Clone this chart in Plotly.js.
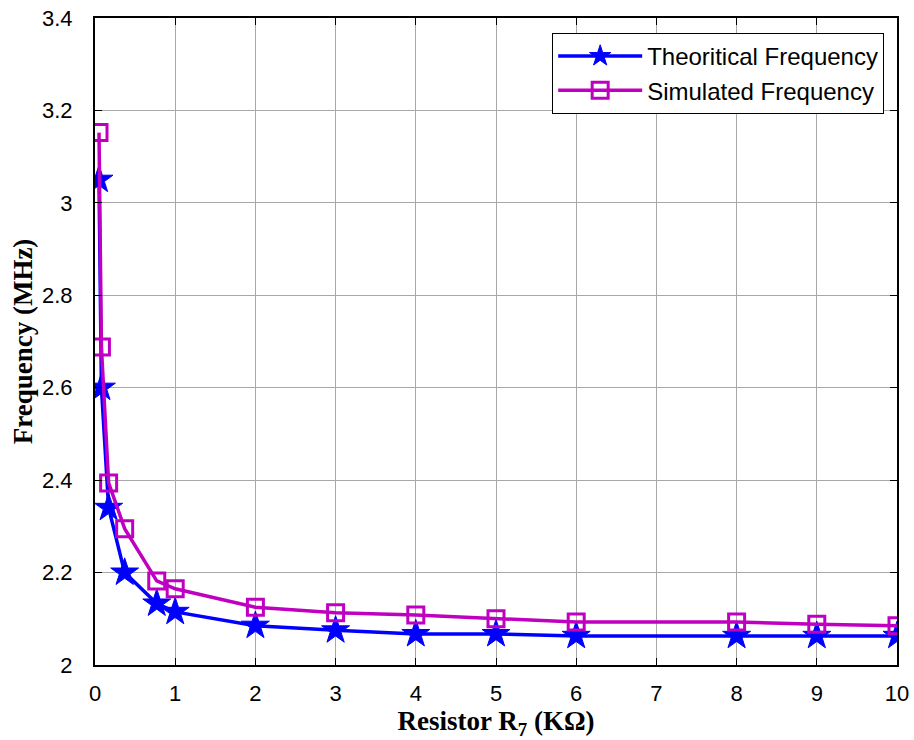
<!DOCTYPE html>
<html>
<head>
<meta charset="utf-8">
<script src="https://cdn.plot.ly/plotly-3.0.1.min.js"></script>
<style>html,body{margin:0;padding:0;background:#fff;}#chart{width:914px;height:740px;}</style>
</head>
<body>
<div id="chart"></div>
<script>
const resistance = [0.05, 0.08, 0.17, 0.37, 0.77, 1, 2, 3, 4, 5, 6, 8, 9, 10];
const theoretical = [3.05, 2.60, 2.34, 2.20, 2.133, 2.115, 2.085, 2.075, 2.067, 2.067, 2.063, 2.063, 2.063, 2.063];
const simulated = [3.152, 2.688, 2.394, 2.295, 2.182, 2.165, 2.125, 2.113, 2.108, 2.100, 2.093, 2.093, 2.088, 2.085];
const xTicks = [0,1,2,3,4,5,6,7,8,9,10];
const yTicks = [2, 2.2, 2.4, 2.6, 2.8, 3, 3.2, 3.4];

const traces = [
  {x: resistance, y: theoretical, name: 'Theoritical Frequency', mode: 'lines+markers',
   line: {color: '#0000ff', width: 3.5},
   marker: {symbol: 'star', size: 21, color: '#0000ff', line: {color: '#0000ff', width: 1}}},
  {x: resistance, y: simulated, name: 'Simulated Frequency', mode: 'lines+markers',
   line: {color: '#c000c0', width: 3.5},
   marker: {symbol: 'square-open', size: 16, color: '#c000c0', line: {color: '#c000c0', width: 3}}}
];

const axisCommon = {
  showline: true, linecolor: '#000', linewidth: 2, mirror: 'allticks',
  ticks: 'inside', ticklen: 7, tickcolor: '#000', tickwidth: 1,
  showgrid: true, gridcolor: '#a8a8a8', gridwidth: 1, zeroline: false,
  tickfont: {family: 'Liberation Sans, Arial, sans-serif', size: 22, color: '#000'}
};

const layout = {
  width: 914, height: 740,
  margin: {l: 95, r: 17, t: 18, b: 75},
  paper_bgcolor: '#fff', plot_bgcolor: '#fff',
  showlegend: true,
  legend: {x: 0.984, xanchor: 'right', y: 0.977, yanchor: 'top',
    bgcolor: '#fff', bordercolor: '#000', borderwidth: 1,
    font: {family: 'Liberation Sans, Arial, sans-serif', size: 24, color: '#000'},
    itemwidth: 84},
  xaxis: Object.assign({}, axisCommon, {
    range: [0, 10], tickvals: xTicks, ticktext: xTicks.map(String), ticklabelstandoff: 8,
    title: {text: 'Resistor R<sub>7</sub> (KΩ)', standoff: 6,
      font: {family: 'Liberation Serif, Times New Roman, serif', size: 27, color: '#000', weight: 'bold'}}
  }),
  yaxis: Object.assign({}, axisCommon, {
    range: [2, 3.4], tickvals: yTicks, ticktext: yTicks.map(String), ticklabelstandoff: 16,
    title: {text: 'Frequency (MHz)', standoff: 2,
      font: {family: 'Liberation Serif, Times New Roman, serif', size: 27, color: '#000', weight: 'bold'}}
  })
};

Plotly.newPlot('chart', traces, layout, {displayModeBar: false, staticPlot: true});
</script>
</body>
</html>
